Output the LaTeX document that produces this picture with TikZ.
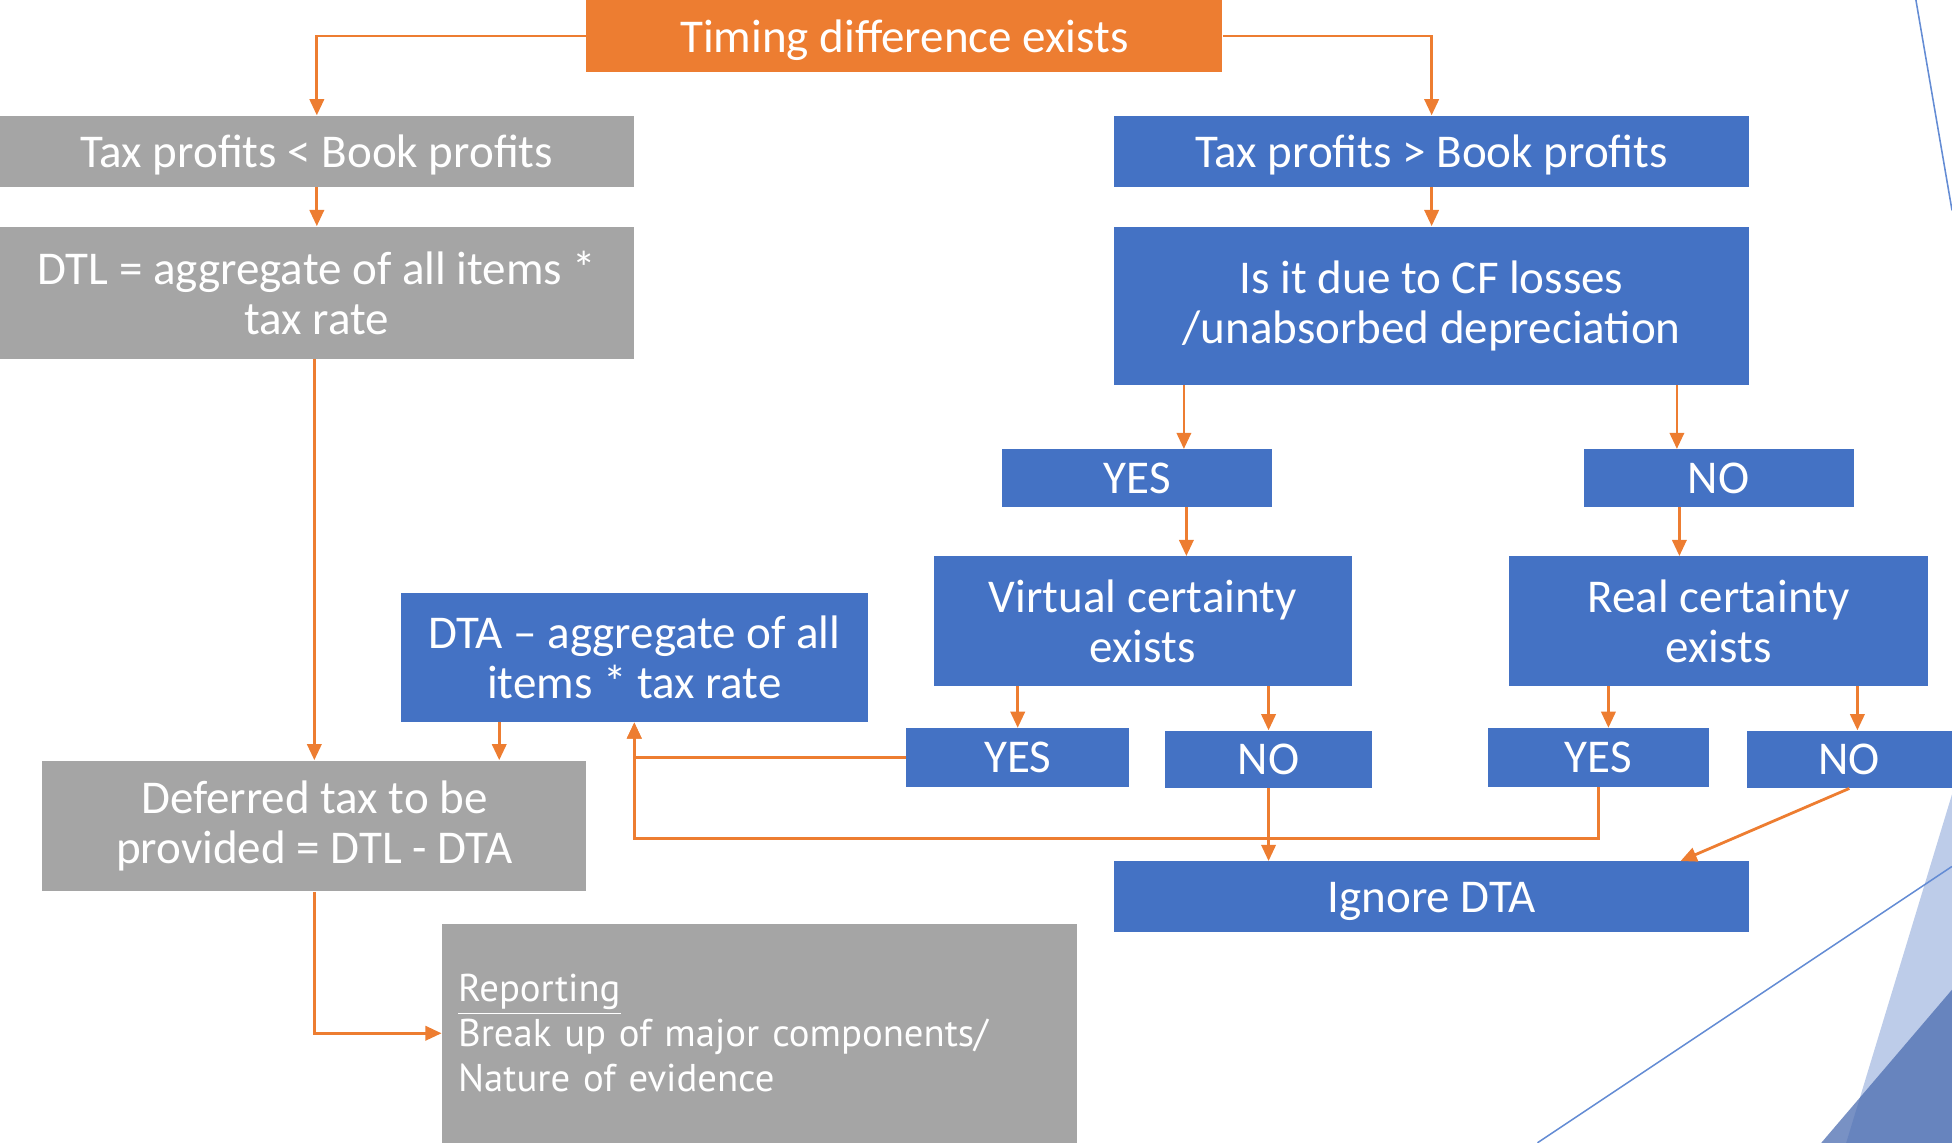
\documentclass[tikz,border=0pt]{standalone}
\usepackage{fontspec}
\setmainfont{Carlito}
\newfontfamily\repfont{PT Sans}
\usetikzlibrary{arrows.meta}
\definecolor{orng}{RGB}{237,125,49}
\definecolor{bluebx}{RGB}{68,114,196}
\definecolor{graybx}{RGB}{165,165,165}
\definecolor{lightdeco}{RGB}{189,204,233}
\definecolor{darkdeco}{RGB}{75,108,176}
\definecolor{linedeco}{RGB}{100,140,212}
\begin{document}
\begin{tikzpicture}[x=0.02cm,y=-0.02cm,
  bx/.style={rectangle, inner sep=0pt, text=white, align=center, font=\fontsize{21.5}{22.8}\selectfont},
  bluebox/.style={bx, fill=bluebx},
  graybox/.style={bx, fill=graybx},
  orangebox/.style={bx, fill=orng},
  oneline/.style={text depth=0pt},
  arr/.style={draw=orng, line width=0.045cm, -{Triangle[length=0.26cm,width=0.23cm]}},
  decoline/.style={draw=linedeco, line width=0.025cm}
]
\useasboundingbox (0,0) rectangle (1568,918);
\clip (0,0) rectangle (1568,918);
% decorations
\fill[lightdeco] (1568,638) -- (1483,918) -- (1568,918) -- cycle;
\fill[darkdeco, opacity=0.75] (1463,918) -- (1568,795) -- (1568,918) -- cycle;
\draw[decoline] (1568,696) -- (1235,918);
\draw[decoline] (1539,0) -- (1568,169);
% boxes
\node[orangebox, oneline, minimum width=10.22cm, minimum height=1.16cm] (timing) at (726.5,29) {Timing difference exists};
\node[graybox, oneline, minimum width=10.18cm, minimum height=1.14cm] (tlb) at (254.5,121.5) {Tax profits < Book profits};
\node[graybox, minimum width=10.18cm, minimum height=2.12cm] (dtl) at (254.5,235) {DTL = aggregate of all items *\\tax rate};
\node[bluebox, oneline, minimum width=10.2cm, minimum height=1.14cm] (tgb) at (1150,121.5) {Tax profits > Book profits};
\node[bluebox, minimum width=10.2cm, minimum height=2.54cm] (cf) at (1150,245.5) {Is it due to CF losses\\/unabsorbed depreciation};
\node[bluebox, minimum width=4.34cm, minimum height=0.92cm] (yes1) at (913.5,384) {YES};
\node[bluebox, minimum width=4.34cm, minimum height=0.92cm] (no1) at (1380.5,384) {NO};
\node[bluebox, minimum width=6.72cm, minimum height=2.08cm] (virt) at (918,499) {Virtual certainty\\exists};
\node[bluebox, minimum width=6.74cm, minimum height=2.08cm] (real) at (1380.5,499) {Real certainty\\exists};
\node[bluebox, minimum width=7.5cm, minimum height=2.08cm] (dta) at (509.5,528) {DTA – aggregate of all\\items * tax rate};
\node[bluebox, minimum width=3.58cm, minimum height=0.94cm] (yes2) at (817.5,608.5) {YES};
\node[bluebox, minimum width=3.32cm, minimum height=0.92cm] (no2) at (1019,610) {NO};
\node[bluebox, minimum width=3.56cm, minimum height=0.94cm] (yes3) at (1284,608.5) {YES};
\node[bluebox, minimum width=3.3cm, minimum height=0.92cm] (no3) at (1485.5,610) {NO};
\node[graybox, minimum width=8.74cm, minimum height=2.1cm] (def) at (252.5,663.5) {Deferred tax to be\\provided = DTL - DTA};
\node[bluebox, oneline, minimum width=10.2cm, minimum height=1.14cm] (ign) at (1150,720.5) {Ignore DTA};
\node[graybox, minimum height=3.52cm, align=left, text width=9.68cm, inner xsep=0.26cm, font=\repfont\fontsize{17.7}{20.5}\selectfont] (rep) at (610,830) {\underline{Reporting}\\Break up of major components/\\Nature of evidence};
% helper coordinates
\coordinate (c1) at ([xshift=0.75cm]yes1.north);
\coordinate (c2) at ([xshift=-0.67cm]no1.north);
\coordinate (c3) at ([xshift=0.70cm]virt.north);
\coordinate (c4) at ([xshift=-0.63cm]real.north);
\coordinate (c5) at ([xshift=0.16cm]yes3.north);
\coordinate (c6) at ([xshift=0.13cm]no3.north);
\coordinate (c7) at ([xshift=-2.17cm]dta.south);
\coordinate (c8) at ([xshift=4cm]ign.north);
% connectors
\draw[arr] (timing.west) -| (tlb.north);
\draw[arr] (timing.east) -| (tgb.north);
\draw[arr] (tlb.south) -- (dtl.north);
\draw[arr] (tgb.south) -- (cf.north);
\draw[arr] (def.north |- dtl.south) -- (def.north);
\draw[arr] (c1 |- cf.south) -- (c1);
\draw[arr] (c2 |- cf.south) -- (c2);
\draw[arr] (c3 |- yes1.south) -- (c3);
\draw[arr] (c4 |- no1.south) -- (c4);
\draw[arr] (yes2.north |- virt.south) -- (yes2.north);
\draw[arr] (no2.north |- virt.south) -- (no2.north);
\draw[arr] (c5 |- real.south) -- (c5);
\draw[arr] (c6 |- real.south) -- (c6);
\draw[arr] (c7) -- (c7 |- def.north);
\draw[arr] (yes2.west) -| (dta.south);
\draw[arr] (yes3.south) -- ++(0,41) -| (dta.south);
\draw[arr] (no2.south) -- (no2.south |- ign.north);
\draw[arr] (no3.south) -- (c8);
\draw[arr] (def.south) |- (rep.west);
\end{tikzpicture}
\end{document}
